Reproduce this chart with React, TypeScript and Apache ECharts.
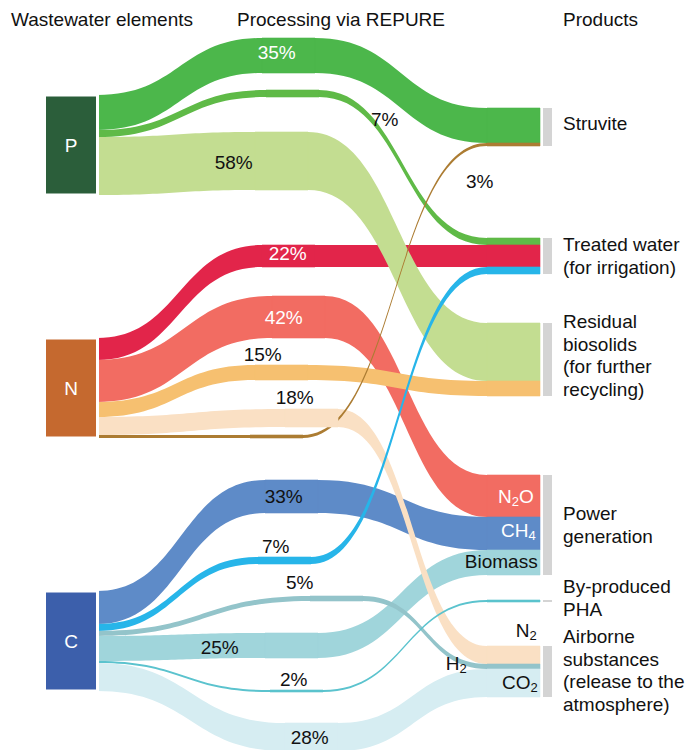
import React, { useEffect, useRef } from "react";
import * as echarts from "echarts";

// ---------------- data ----------------
const headerTexts = ["Wastewater elements", "Processing via REPURE", "Products"];
const sourceNames = ["P", "N", "C"];
const productNames = [
  "Struvite",
  "Treated water",
  "Residual biosolids",
  "Power generation",
  "By-produced PHA",
  "Airborne substances",
];
const productLabelLines = [
  ["Struvite"],
  ["Treated water", "(for irrigation)"],
  ["Residual", "biosolids", "(for further", "recycling)"],
  ["Power", "generation"],
  ["By-produced", "PHA"],
  ["Airborne", "substances", "(release to the", "atmosphere)"],
];
// flows (percent of each element)
const flowSource = ["P", "P", "P", "N", "N", "N", "N", "N", "C", "C", "C", "C", "C", "C"];
const flowProduct = [0, 1, 2, 1, 3, 2, 5, 0, 3, 1, 5, 3, 4, 5];
const flowValue = [35, 7, 58, 22, 42, 15, 18, 3, 33, 7, 5, 25, 2, 28];
const flowSubstance = ["", "", "", "", "N2O", "", "N2", "", "CH4", "", "H2", "Biomass", "", "CO2"];

// ---------------- styles ----------------
const FONT = '"Liberation Sans", Arial, Helvetica, sans-serif';
const FS = 19;
const sourceColors = ["#2b5e3a", "#c5692f", "#3c5fab"];
const flowColors = [
  "#4cb74b", "#5fba47", "#c3dd91",
  "#e2254a", "#f26c62", "#f6c070", "#fae0c4", "#ac7c32",
  "#5e8bc8", "#27b5e9", "#93c4ca", "#a0d5db", "#5bc3ce", "#d6edf2",
];
const pctLabelColor = ["#fff", "#111", "#111", "#fff", "#fff", "#111", "#111", "#111", "#111", "#111", "#111", "#111", "#111", "#111"];
const subLabelColor = ["", "", "", "", "#fff", "", "#111", "", "#fff", "", "#111", "#111", "", "#111"];
const GREY = "#d4d4d4";

// ---------------- layout ----------------
const W = 685;
const H = 750;
const KY = 1;
const NODE_W = 53;
const LEFT_X = 44.5;
const RIGHT_X = 487;
const SOURCE_TOP = [95, 338, 591];
const MID_X = [262, 266, 255, 262, 272, 255, 285, 250, 265, 258, 310, 265, 270, 285];
const MID_TOP = [38, 90, 132, 245, 296, 365, 409, 435, 480, 557, 596, 633, 690, 723];
const PRODUCT_TOP = [108, 238, 323, 475, 600, 646];
const PRODUCT_LABEL_DY = [-4, 0, -4, 0, -3, -1];
const PCT_POS = [
  [277, 53], [385, 120], [234, 163], [288, 254], [284, 318], [263, 355], [295, 398],
  [480, 182], [284, 497], [276, 547], [300, 583], [220, 648], [294, 680], [310, 738],
];
const SUB_POS = [
  null, null, null, null, [534, 497], null, [537, 631], null, [536, 531], null,
  [467, 664], [538, 562], null, [538, 683],
];
const HEADER_X = [11, 237, 563];
const HEADER_Y = 19;
const BAR_X = 543;
const BAR_W = 9;
const PRODUCT_LABEL_X = 563;
const LINE_H = 22.6;
// z-order of the right-hand segments (later = on top)
const RIGHT_DRAW_ORDER = [3, 4, 8, 11, 13, 2, 0, 5, 6, 10, 1, 7, 9, 12];

function richSub(text: string) {
  return text
    .split("")
    .map((ch) => (/[0-9]/.test(ch) ? `{s|${ch}}` : `{b|${ch}}`))
    .join("");
}

function buildOption() {
  const endTop = flowValue.map((v, i) => {
    const g = flowProduct[i];
    let y = PRODUCT_TOP[g];
    for (let j = 0; j < i; j++) if (flowProduct[j] === g) y += flowValue[j] * KY;
    return y;
  });
  const total = flowValue.reduce((a, b) => a + b, 0);
  const nodeGap = (H - total * KY) / (flowValue.length - 1);

  const nodes: any[] = [];
  sourceNames.forEach((s, i) => {
    nodes.push({
      name: s,
      localX: LEFT_X / W,
      localY: SOURCE_TOP[i] / H,
      itemStyle: { color: sourceColors[i], borderColor: "#fff", borderWidth: 3 },
      label: {
        show: true,
        position: "inside",
        color: "#fff",
        fontSize: FS,
        fontFamily: FONT,
      },
    });
  });
  flowValue.forEach((v, i) => {
    nodes.push({
      name: "mid-" + i,
      localX: MID_X[i] / W,
      localY: MID_TOP[i] / H,
      itemStyle: { color: flowColors[i], borderColor: flowColors[i], borderWidth: 0.6 },
      label: {
        show: true,
        position: [PCT_POS[i][0] - MID_X[i], PCT_POS[i][1] - MID_TOP[i]],
        align: "center",
        verticalAlign: "middle",
        formatter: v + "%",
        color: pctLabelColor[i],
        fontSize: FS,
        fontFamily: FONT,
      },
    });
  });
  flowValue.forEach((v, i) => {
    const sp = SUB_POS[i];
    const col = subLabelColor[i] || "#111";
    nodes.push({
      name: "end-" + i,
      localX: RIGHT_X / W,
      localY: endTop[i] / H,
      itemStyle: { color: flowColors[i], borderColor: flowColors[i], borderWidth: 0.6 },
      label: sp
        ? {
            show: true,
            position: [sp[0] - RIGHT_X, sp[1] - endTop[i]],
            align: "right",
            verticalAlign: "middle",
            formatter: richSub(flowSubstance[i]),
            rich: {
              b: { fontSize: FS, lineHeight: 22, color: col, fontFamily: FONT },
              s: { fontSize: 13, lineHeight: 12, verticalAlign: "bottom", color: col, fontFamily: FONT },
            },
          }
        : { show: false },
    });
  });

  const links: any[] = [];
  flowValue.forEach((v, i) => {
    links.push({
      source: flowSource[i],
      target: "mid-" + i,
      value: v,
      lineStyle: { color: flowColors[i], opacity: 1, curveness: 0.5 },
    });
  });
  RIGHT_DRAW_ORDER.forEach((i) => {
    links.push({
      source: "mid-" + i,
      target: "end-" + i,
      value: flowValue[i],
      lineStyle: { color: flowColors[i], opacity: 1, curveness: 0.5 },
    });
  });

  const graphics: any[] = [];
  headerTexts.forEach((t, i) => {
    graphics.push({
      type: "text",
      x: HEADER_X[i],
      y: HEADER_Y,
      style: { text: t, fontSize: FS, fontFamily: FONT, fill: "#111", verticalAlign: "middle", align: "left" },
    });
  });
  productNames.forEach((p, g) => {
    let sum = 0;
    flowValue.forEach((v, i) => {
      if (flowProduct[i] === g) sum += v;
    });
    const h = Math.max(2, sum * KY);
    graphics.push({
      type: "rect",
      shape: { x: BAR_X, y: PRODUCT_TOP[g], width: BAR_W, height: h },
      style: { fill: GREY },
    });
    const cy = PRODUCT_TOP[g] + h / 2 + PRODUCT_LABEL_DY[g];
    graphics.push({
      type: "text",
      x: PRODUCT_LABEL_X,
      y: cy,
      style: {
        text: productLabelLines[g].join("\n"),
        fontSize: FS,
        fontFamily: FONT,
        fill: "#111",
        lineHeight: LINE_H,
        verticalAlign: "middle",
        align: "left",
      },
    });
  });

  return {
    animation: false,
    backgroundColor: "#fff",
    tooltip: { show: false },
    graphic: graphics,
    series: [
      {
        type: "sankey",
        left: 0,
        top: 0,
        width: W,
        height: H,
        nodeWidth: NODE_W,
        nodeGap,
        layoutIterations: 0,
        draggable: false,
        silent: true,
        emphasis: { disabled: true },
        label: { show: false },
        data: nodes,
        links,
      },
    ],
  };
}

export default function App() {
  const ref = useRef<HTMLDivElement>(null);
  useEffect(() => {
    document.body.style.margin = "0";
    if (!ref.current) return;
    const chart = echarts.init(ref.current, undefined, { renderer: "svg" });
    chart.setOption(buildOption() as any);
    return () => chart.dispose();
  }, []);
  return <div ref={ref} style={{ width: W, height: H }} />;
}
